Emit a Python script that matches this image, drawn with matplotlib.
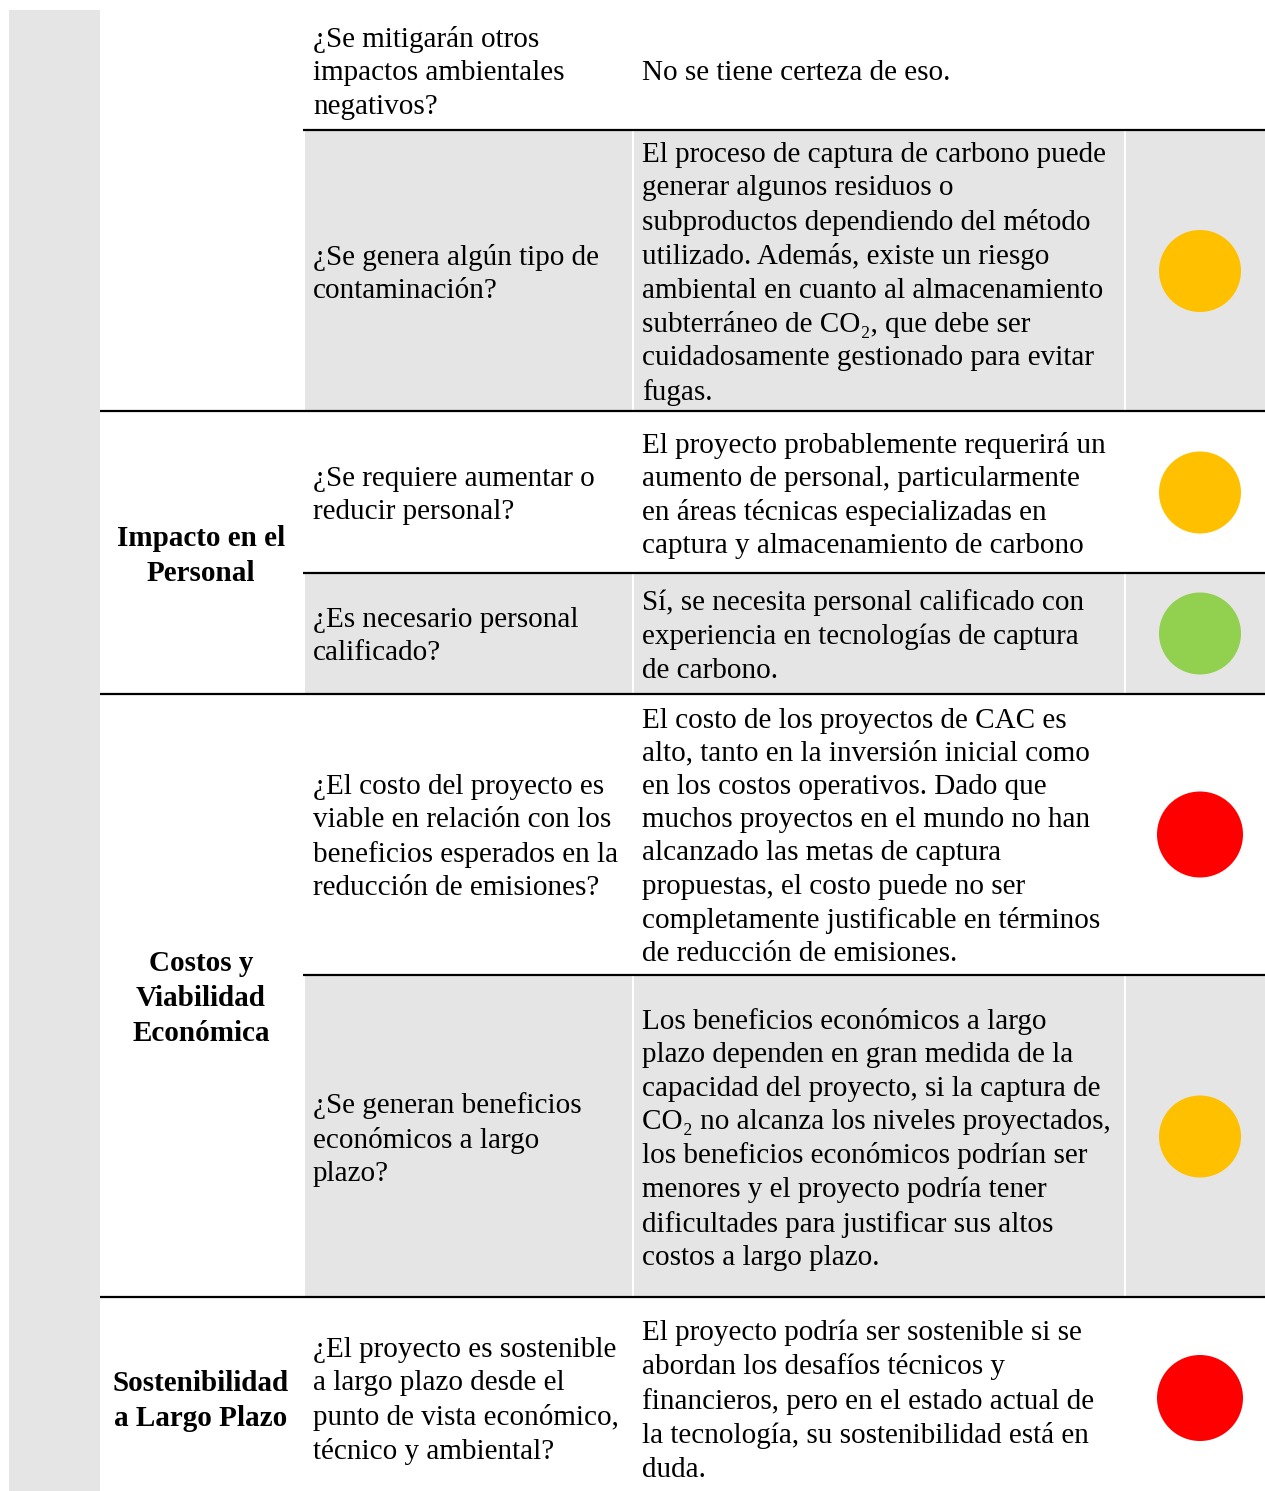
"""Evaluation table (semaphore) for the CCS project, redrawn as a matplotlib figure."""

import matplotlib.pyplot as plt
from matplotlib.patches import Circle, Rectangle

# ── Data ────────────────────────────────────────────────────────────────

CATEGORIES = [
    "",
    "Impacto en el\nPersonal",
    "Costos y\nViabilidad\nEconómica",
    "Sostenibilidad\na Largo Plazo",
]
# rows covered by each category (first, last)
CATEGORY_ROWS = [(0, 1), (2, 3), (4, 5), (6, 6)]

QUESTIONS = [
    "¿Se mitigarán otros\nimpactos ambientales\nnegativos?",
    "¿Se genera algún tipo de\ncontaminación?",
    "¿Se requiere aumentar o\nreducir personal?",
    "¿Es necesario personal\ncalificado?",
    "¿El costo del proyecto es\nviable en relación con los\nbeneficios esperados en la\nreducción de emisiones?",
    "¿Se generan beneficios\neconómicos a largo\nplazo?",
    "¿El proyecto es sostenible\na largo plazo desde el\npunto de vista económico,\ntécnico y ambiental?",
]

ANSWERS = [
    "No se tiene certeza de eso.",
    "El proceso de captura de carbono puede\ngenerar algunos residuos o\nsubproductos dependiendo del método\n"
    "utilizado. Además, existe un riesgo\nambiental en cuanto al almacenamiento\n"
    "subterráneo de CO₂, que debe ser\ncuidadosamente gestionado para evitar\nfugas.",
    "El proyecto probablemente requerirá un\naumento de personal, particularmente\n"
    "en áreas técnicas especializadas en\ncaptura y almacenamiento de carbono",
    "Sí, se necesita personal calificado con\nexperiencia en tecnologías de captura\nde carbono.",
    "El costo de los proyectos de CAC es\nalto, tanto en la inversión inicial como\n"
    "en los costos operativos. Dado que\nmuchos proyectos en el mundo no han\n"
    "alcanzado las metas de captura\npropuestas, el costo puede no ser\n"
    "completamente justificable en términos\nde reducción de emisiones.",
    "Los beneficios económicos a largo\nplazo dependen en gran medida de la\n"
    "capacidad del proyecto, si la captura de\nCO₂ no alcanza los niveles proyectados,\n"
    "los beneficios económicos podrían ser\nmenores y el proyecto podría tener\n"
    "dificultades para justificar sus altos\ncostos a largo plazo.",
    "El proyecto podría ser sostenible si se\nabordan los desafíos técnicos y\n"
    "financieros, pero en el estado actual de\nla tecnología, su sostenibilidad está en\nduda.",
]

STATUS = [None, "amarillo", "amarillo", "verde", "rojo", "amarillo", "rojo"]

# ── Layout (pixel units) ────────────────────────────────────────────────

W, H = 1265, 1491
ROW_TOP = [0, 131, 412, 573, 694, 976, 1297]
ROW_BOT = [130, 411, 573, 694, 975, 1297, 1499]   # last row runs past the crop
SHADED_ROWS = {1, 3, 5}
COL_X = [100, 304, 633, 1125, W]          # column edges
GRAY = "#e5e5e5"
STATUS_COLORS = {"amarillo": "#ffc000", "verde": "#92d050", "rojo": "#ff0000"}
STATUS_RADIUS = {"amarillo": 41, "verde": 41, "rojo": 43}
FONT = ["Liberation Serif", "DejaVu Serif"]
FS = 21
LS = 1.36
TEXT_DY = 3      # va="center" sits a bit high because of descenders

fig = plt.figure(figsize=(W / 100, H / 100), dpi=100)
ax = fig.add_axes([0, 0, 1, 1])
ax.set_xlim(0, W)
ax.set_ylim(H, 0)
ax.axis("off")

# left gray strip
ax.add_patch(Rectangle((9, 10), 91, H - 10, facecolor=GRAY, edgecolor="none"))

for i in range(len(QUESTIONS)):
    top, bot = ROW_TOP[i], ROW_BOT[i]
    yc = (top + bot) / 2 if i > 0 else 70

    if i in SHADED_ROWS:
        for c in range(1, 4):
            x0 = COL_X[c] + 1
            x1 = COL_X[c + 1] - 1 if c < 3 else W
            ax.add_patch(Rectangle((x0, top), x1 - x0, bot - top,
                                   facecolor=GRAY, edgecolor="none"))

    ax.text(313, yc + TEXT_DY, QUESTIONS[i], ha="left", va="center",
            fontsize=FS, family=FONT, linespacing=LS)
    ax.text(642, yc + TEXT_DY, ANSWERS[i], ha="left", va="center",
            fontsize=FS, family=FONT, linespacing=LS)

    if STATUS[i]:
        ax.add_patch(Circle((1200, yc), STATUS_RADIUS[STATUS[i]],
                            facecolor=STATUS_COLORS[STATUS[i]], edgecolor="none"))

# category labels and horizontal rules
for label, (r0, r1) in zip(CATEGORIES, CATEGORY_ROWS):
    if label:
        yc = (ROW_TOP[r0] + ROW_BOT[r1]) / 2
        ax.text(201, yc + TEXT_DY, label, ha="center", va="center", fontsize=FS,
                fontweight="bold", family=FONT, linespacing=LS)
    for r in range(r0, r1 + 1):
        if r == len(QUESTIONS) - 1:
            continue
        x_start = COL_X[0] if r == r1 else COL_X[1] - 1
        ax.plot([x_start, W], [ROW_BOT[r], ROW_BOT[r]], color="black", lw=1.6,
                solid_capstyle="butt")

fig.savefig("out.png", dpi=100)
